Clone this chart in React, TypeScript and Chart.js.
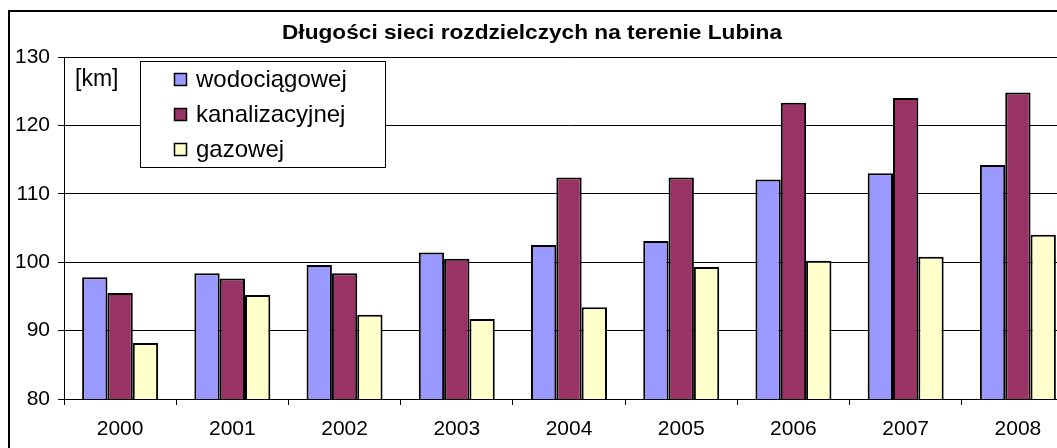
import React, { useEffect, useRef } from "react";
import { Chart, registerables } from "chart.js";

Chart.register(...registerables);

const years = ["2000", "2001", "2002", "2003", "2004", "2005", "2006", "2007", "2008"];
const wodociagowej = [97.8, 98.4, 99.6, 101.4, 102.5, 103.1, 112.1, 113.0, 114.2];
const kanalizacyjnej = [95.5, 97.6, 98.4, 100.5, 112.4, 112.4, 123.3, 124.0, 124.8];
const gazowej = [88.2, 95.2, 92.3, 91.7, 93.4, 99.3, 100.2, 100.8, 104.0];
const seriesLabels = ["wodociągowej", "kanalizacyjnej", "gazowej"];
const seriesColors = ["#9999FF", "#993366", "#FFFFCC"];
const titleText = "Długości sieci rozdzielczych na terenie Lubina";
const unitText = "[km]";

const FONT = "Arial, 'Liberation Sans', sans-serif";

function stretchedText(ctx: any, text: string, cx: number, y: number, targetW: number) {
  const w = ctx.measureText(text).width;
  const s = targetW / w;
  ctx.save();
  ctx.translate(cx, y);
  ctx.scale(s, 1);
  ctx.textAlign = "center";
  ctx.fillText(text, 0, 0);
  ctx.restore();
}

const decorPlugin = {
  id: "decor",
  beforeDraw(chart: any) {
    const ctx = chart.ctx;
    ctx.save();
    ctx.fillStyle = "#fff";
    ctx.fillRect(0, 0, chart.width, chart.height);
    ctx.strokeStyle = "#000";
    ctx.lineWidth = 2;
    ctx.strokeRect(9, 11, chart.width + 100, chart.height + 100);
    ctx.fillStyle = "#000";
    ctx.font = `bold 21px ${FONT}`;
    ctx.textBaseline = "alphabetic";
    stretchedText(ctx, titleText, 532, 39, 500);
    ctx.restore();
  },
  afterDraw(chart: any) {
    const ctx = chart.ctx;
    ctx.save();
    ctx.fillStyle = "#000";
    ctx.font = `23px ${FONT}`;
    ctx.textAlign = "left";
    ctx.textBaseline = "alphabetic";
    ctx.fillText(unitText, 75, 86);
    // legend box
    ctx.fillStyle = "#fff";
    ctx.fillRect(140, 61, 245, 106);
    ctx.strokeStyle = "#000";
    ctx.lineWidth = 1;
    ctx.strokeRect(140.5, 61.5, 245, 106);
    const rows = [79, 114, 148.5];
    chart.data.datasets.forEach((ds: any, i: number) => {
      const y = rows[i];
      ctx.fillStyle = ds.backgroundColor;
      ctx.fillRect(174, Math.round(y - 6), 13, 13);
      ctx.strokeStyle = "#000";
      ctx.lineWidth = 1.5;
      ctx.strokeRect(174.5, Math.round(y - 6) + 0.5, 12, 12);
      ctx.fillStyle = "#000";
      ctx.font = `24px ${FONT}`;
      ctx.textAlign = "left";
      ctx.textBaseline = "alphabetic";
      ctx.fillText(ds.label, 196, y + 8);
    });
    ctx.restore();
  },
};

export default function App() {
  const ref = useRef<HTMLCanvasElement | null>(null);
  useEffect(() => {
    if (!ref.current) return;
    const datasets = [wodociagowej, kanalizacyjnej, gazowej].map((d, i) => ({
      label: seriesLabels[i],
      data: d,
      backgroundColor: seriesColors[i],
      borderColor: "#000",
      borderWidth: 2,
      borderSkipped: false,
      categoryPercentage: 0.677,
      barPercentage: 1.0,
    }));
    const chart = new Chart(ref.current, {
      type: "bar",
      data: { labels: years, datasets },
      plugins: [decorPlugin],
      options: {
        responsive: false,
        animation: false,
        devicePixelRatio: 1,
        layout: { padding: { left: 0, right: 26, top: 57, bottom: 0 } },
        plugins: {
          legend: { display: false },
          title: { display: false },
          tooltip: { enabled: false },
        },
        scales: {
          x: {
            grid: {
              display: true,
              drawOnChartArea: false,
              drawTicks: true,
              tickLength: 6,
              color: "#000",
              offset: true,
            },
            border: { display: true, color: "#000", width: 1 },
            ticks: {
              color: "#000",
              font: { family: FONT, size: 21 },
              padding: 12,
              maxRotation: 0,
            },
            afterFit(scale: any) {
              scale.height = 61;
            },
          },
          y: {
            min: 80,
            max: 130,
            ticks: {
              stepSize: 10,
              color: "#000",
              font: { family: FONT, size: 21 },
              padding: 8,
            },
            grid: {
              color: "#000",
              lineWidth: 1,
              tickLength: 6,
            },
            border: { display: true, color: "#000", width: 1 },
            afterFit(scale: any) {
              scale.width = 64;
            },
          },
        },
      },
    });
    return () => chart.destroy();
  }, []);
  return (
    <div
      style={{
        position: "absolute",
        left: 0,
        top: 0,
        width: 1057,
        height: 448,
        overflow: "hidden",
        background: "#fff",
      }}
    >
      <canvas ref={ref} width={1100} height={460} style={{ width: 1100, height: 460, display: "block" }} />
    </div>
  );
}
